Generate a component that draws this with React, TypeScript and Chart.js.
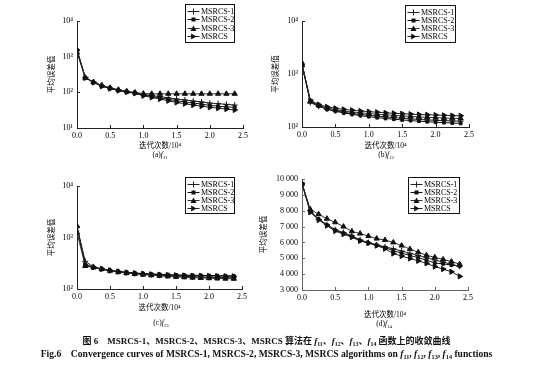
import React, { useEffect, useRef } from 'react';
import { Chart, registerables } from 'chart.js';

Chart.register(...registerables);

// ---------- data ----------
const xIter = [0, 0.125, 0.25, 0.375, 0.5, 0.625, 0.75, 0.875, 1.0, 1.125, 1.25, 1.375, 1.5, 1.625, 1.75, 1.875, 2.0, 2.125, 2.25, 2.375];
const xTicks = [0, 0.5, 1.0, 1.5, 2.0, 2.5];
const seriesNames = ['MSRCS-1', 'MSRCS-2', 'MSRCS-3', 'MSRCS'];

// (a) f11
const a1 = [1550, 262, 195, 155, 132, 117, 106, 98, 87, 81, 76, 70, 65, 61, 57, 54, 50, 48, 46, 44];
const a2 = [1550, 258, 190, 150, 128, 113, 103, 95, 84, 77, 70, 64, 58, 54, 50, 47, 43, 41, 39, 38];
const a3 = [1300, 255, 193, 156, 134, 118, 106, 98, 92, 91, 91, 91, 91, 91, 91, 91, 91, 91, 91, 91];
const a4 = [1500, 255, 188, 148, 127, 112, 102, 94, 80, 72, 65, 58, 52, 48, 44, 41, 38, 36, 34, 32];

// (b) f12
const b1 = [1550, 290, 245, 218, 203, 190, 180, 172, 166, 160, 155, 150, 146, 142, 139, 136, 134, 132, 130, 129];
const b2 = [1600, 310, 250, 215, 198, 184, 173, 164, 157, 150, 145, 140, 136, 132, 129, 126, 123, 121, 119, 117];
const b3 = [1450, 300, 255, 228, 212, 200, 192, 185, 180, 174, 170, 166, 162, 158, 155, 152, 150, 148, 146, 145];
const b4 = [1500, 320, 265, 240, 225, 215, 207, 200, 195, 190, 185, 181, 178, 175, 172, 170, 168, 166, 164, 163];

// (c) f13
const c1 = [1600, 345, 268, 245, 228, 217, 207, 200, 194, 189, 185, 181, 178, 175, 173, 171, 169, 167, 166, 165];
const c2 = [1650, 300, 265, 245, 230, 220, 212, 205, 200, 196, 193, 190, 188, 186, 185, 184, 183, 182, 181, 180];
const c3 = [1250, 280, 262, 243, 226, 214, 204, 196, 190, 185, 180, 176, 172, 169, 166, 164, 162, 160, 159, 158];
const c4 = [1600, 290, 264, 246, 229, 218, 209, 202, 197, 193, 190, 187, 185, 183, 181, 180, 179, 178, 177, 176];

// (d) f14
const d1 = [9750, 8000, 7450, 7130, 6800, 6620, 6420, 6160, 5990, 5850, 5720, 5600, 5460, 5320, 5180, 5030, 4890, 4760, 4620, 4490];
const d2 = [9720, 7950, 7480, 7100, 6770, 6580, 6380, 6120, 5970, 5820, 5680, 5480, 5320, 5180, 5040, 4880, 4700, 4650, 4570, 4500];
const d3 = [9700, 8080, 7780, 7500, 7270, 7000, 6700, 6560, 6400, 6240, 6150, 6000, 5800, 5580, 5380, 5190, 5060, 4930, 4790, 4630];
const d4 = [9700, 7900, 7420, 7060, 6720, 6520, 6330, 6100, 5960, 5800, 5600, 5300, 5140, 4990, 4840, 4680, 4480, 4320, 4150, 3860];

const logTicksA = [10, 100, 1000, 10000];
const logTicksBC = [100, 1000, 10000];
const linTicksD = [3000, 4000, 5000, 6000, 7000, 8000, 9000, 10000];

const yTitle = '平均误差值';
const xTitle = '迭代次数/10⁴';

// ---------- styling ----------
const FONT = "'Liberation Serif', 'Noto Sans CJK SC', serif";
const TITLE_SIZE = 7.5;
const HALF_LH = (TITLE_SIZE * 1.2) / 2;
const pointStyles = ['cross', 'rect', 'triangle', 'triangle'];
const pointRot = [0, 0, 0, 90];
const pointRad = [3, 2, 3, 3];
const lineColors = ['#222', '#111', '#333', '#222'];

const sup: Record<string, string> = { '0': '⁰', '1': '¹', '2': '²', '3': '³', '4': '⁴', '5': '⁵' };
const powLabel = (v: number) => '10' + String(Math.round(Math.log10(v))).split('').map((c) => sup[c]).join('');
const spaced = (v: number) => String(v).replace(/\B(?=(\d{3})+(?!\d))/g, ' ');

type Panel = {
  key: string;
  L: number; T: number; W: number; H: number;
  plotL: number; plotR: number; plotT: number; plotB: number;
  titleX: number; xTitleY: number;
  log: boolean; yMin: number; yMax: number; yTicks: number[];
  series: number[][];
  legend: { x: number; y: number; w: number; h: number };
  axisColor: string;
};

const panels: Panel[] = [
  { key: 'a', L: 40, T: 0, W: 226, H: 165, plotL: 77, plotR: 243, plotT: 21, plotB: 128, titleX: 52, xTitleY: 146,
    log: true, yMin: 10, yMax: 10000, yTicks: logTicksA, series: [a1, a2, a3, a4],
    legend: { x: 185, y: 4, w: 49, h: 38 }, axisColor: '#222' },
  { key: 'b', L: 266, T: 0, W: 267, H: 165, plotL: 302, plotR: 469, plotT: 21, plotB: 127, titleX: 276, xTitleY: 146,
    log: true, yMin: 100, yMax: 10000, yTicks: logTicksBC, series: [b1, b2, b3, b4],
    legend: { x: 405, y: 5, w: 50, h: 37 }, axisColor: '#222' },
  { key: 'c', L: 40, T: 165, W: 226, H: 170, plotL: 77, plotR: 242, plotT: 186, plotB: 289, titleX: 52, xTitleY: 308,
    log: true, yMin: 100, yMax: 10000, yTicks: logTicksBC, series: [c1, c2, c3, c4],
    legend: { x: 185, y: 177, w: 49, h: 36 }, axisColor: '#222' },
  { key: 'd', L: 255, T: 165, W: 278, H: 170, plotL: 302, plotR: 468, plotT: 179, plotB: 290, titleX: 264, xTitleY: 315,
    log: false, yMin: 3000, yMax: 10000, yTicks: linTicksD, series: [d1, d2, d3, d4],
    legend: { x: 408, y: 177, w: 51, h: 36 }, axisColor: '#666' },
];

function drawMarker(ctx: CanvasRenderingContext2D, i: number, x: number, y: number) {
  const r = pointRad[i];
  ctx.beginPath();
  if (i === 0) {
    ctx.moveTo(x - r, y); ctx.lineTo(x + r, y);
    ctx.moveTo(x, y - r); ctx.lineTo(x, y + r);
    ctx.stroke();
  } else if (i === 1) {
    ctx.fillRect(x - r, y - r, 2 * r, 2 * r);
  } else if (i === 2) {
    ctx.moveTo(x, y - r); ctx.lineTo(x + r, y + r * 0.8); ctx.lineTo(x - r, y + r * 0.8); ctx.closePath(); ctx.fill();
  } else {
    ctx.moveTo(x + r, y); ctx.lineTo(x - r * 0.8, y - r); ctx.lineTo(x - r * 0.8, y + r); ctx.closePath(); ctx.fill();
  }
}

const decorPlugin = {
  id: 'decor',
  afterDraw(chart: any, _args: any, opts: any) {
    const { ctx, chartArea, scales } = chart;
    const p: Panel = opts.panel;
    ctx.save();
    ctx.strokeStyle = p.axisColor;
    ctx.lineWidth = 1;
    // inward tick marks
    scales.x.ticks.forEach((t: any) => {
      const px = Math.round(scales.x.getPixelForValue(t.value)) + 0.5;
      ctx.beginPath(); ctx.moveTo(px, chartArea.bottom); ctx.lineTo(px, chartArea.bottom - 3); ctx.stroke();
    });
    scales.y.ticks.forEach((t: any) => {
      const py = Math.round(scales.y.getPixelForValue(t.value)) + 0.5;
      ctx.beginPath(); ctx.moveTo(chartArea.left, py); ctx.lineTo(chartArea.left + 3, py); ctx.stroke();
    });
    // legend
    const lx = p.legend.x - p.L + 0.5;
    const ly = p.legend.y - p.T + 0.5;
    ctx.fillStyle = '#fff';
    ctx.fillRect(lx, ly, p.legend.w, p.legend.h);
    ctx.strokeStyle = '#111';
    ctx.strokeRect(lx, ly, p.legend.w, p.legend.h);
    const rowH = (p.legend.h - 4) / 4;
    ctx.font = `8px ${FONT}`;
    ctx.textBaseline = 'middle';
    ctx.textAlign = 'left';
    seriesNames.forEach((name, i) => {
      const y = Math.round(ly + 2 + rowH * (i + 0.5)) + 0.5;
      ctx.strokeStyle = lineColors[i];
      ctx.fillStyle = '#111';
      ctx.beginPath(); ctx.moveTo(lx + 2, y); ctx.lineTo(lx + 14, y); ctx.stroke();
      drawMarker(ctx, i, lx + 8, y);
      ctx.fillStyle = '#000';
      ctx.fillText(name, lx + 15.5, y + 0.5);
    });
    ctx.restore();
  },
};

function ChartPanel({ p }: { p: Panel }) {
  const ref = useRef<HTMLCanvasElement | null>(null);
  useEffect(() => {
    if (!ref.current) return;
    const yAxisW = p.plotL - p.L;
    const xAxisH = p.xTitleY + HALF_LH - p.plotB;
    const padBottom = p.T + p.H - (p.xTitleY + HALF_LH);
    const chart = new Chart(ref.current, {
      type: 'line',
      data: {
        datasets: p.series.map((s, i) => ({
          label: seriesNames[i],
          data: xIter.map((x, j) => ({ x, y: s[j] })),
          borderColor: lineColors[i],
          borderWidth: 1,
          pointStyle: pointStyles[i] as any,
          rotation: pointRot[i],
          pointRadius: pointRad[i],
          pointBorderWidth: 1,
          pointBorderColor: '#111',
          pointBackgroundColor: '#111',
          tension: 0,
          fill: false,
        })),
      },
      options: {
        animation: false,
        responsive: false,
        devicePixelRatio: 1,
        layout: { padding: { left: 0, right: p.W - (p.plotR - p.L), top: p.plotT - p.T, bottom: padBottom } },
        plugins: {
          legend: { display: false },
          tooltip: { enabled: false },
          decor: { panel: p },
        } as any,
        scales: {
          x: {
            type: 'linear',
            min: 0,
            max: 2.5,
            grid: { display: false, drawTicks: false, tickLength: 0 },
            border: { display: true, color: p.axisColor, width: 1 },
            ticks: {
              padding: 3,
              color: '#000',
              font: { family: FONT, size: 8 },
              autoSkip: false,
              maxRotation: 0,
              callback: (v: any) => Number(v).toFixed(1),
            },
            afterBuildTicks: (s: any) => { s.ticks = xTicks.map((v) => ({ value: v })); },
            afterFit: (s: any) => { s.height = xAxisH; },
            title: { display: true, text: xTitle, color: '#000', font: { family: FONT, size: TITLE_SIZE }, padding: { top: 0, bottom: 0 } },
          },
          y: {
            type: p.log ? 'logarithmic' : 'linear',
            min: p.yMin,
            max: p.yMax,
            grid: { display: false, drawTicks: false, tickLength: 0 },
            border: { display: true, color: p.axisColor, width: 1 },
            ticks: {
              padding: 4,
              color: '#000',
              font: { family: FONT, size: 8 },
              autoSkip: false,
              callback: (v: any) => (p.log ? powLabel(Number(v)) : spaced(Number(v))),
            },
            afterBuildTicks: (s: any) => { s.ticks = p.yTicks.map((v) => ({ value: v })); },
            afterFit: (s: any) => { s.width = yAxisW; },
            title: { display: true, text: yTitle, color: '#000', font: { family: FONT, size: TITLE_SIZE }, padding: { top: p.titleX - p.L - HALF_LH, bottom: 0 } },
          },
        } as any,
      },
      plugins: [decorPlugin as any],
    });
    return () => chart.destroy();
  }, [p]);
  return (
    <canvas
      ref={ref}
      width={p.W}
      height={p.H}
      style={{ position: 'absolute', left: p.L, top: p.T, width: p.W, height: p.H }}
    />
  );
}

const subcaps = [
  { letter: 'a', sub: '11', x: 160, y: 156 },
  { letter: 'b', sub: '12', x: 386, y: 156 },
  { letter: 'c', sub: '13', x: 161, y: 324 },
  { letter: 'd', sub: '14', x: 384, y: 325 },
];

const F = (n: string) => (
  <span><i>f</i><sub style={{ fontSize: '0.65em', verticalAlign: '-0.25em' }}>{n}</sub></span>
);

export default function App() {
  return (
    <div style={{ position: 'absolute', left: 0, top: 0, width: 533, height: 365, background: '#fff', overflow: 'hidden', fontFamily: FONT }}>
      {panels.map((p) => <ChartPanel key={p.key} p={p} />)}
      {subcaps.map((s) => (
        <div key={s.letter} style={{ position: 'absolute', left: s.x, top: s.y, transform: 'translate(-50%, -50%)', fontSize: 7.5, lineHeight: '9px', whiteSpace: 'nowrap', color: '#000' }}>
          ({s.letter}){F(s.sub)}
        </div>
      ))}
      <div style={{ position: 'absolute', left: 0, width: 533, top: 343, transform: 'translateY(-50%)', textAlign: 'center', fontSize: 9, fontWeight: 'bold', lineHeight: '11px', whiteSpace: 'nowrap', color: '#111' }}>
        图 6&nbsp;&nbsp;&nbsp;&nbsp;MSRCS-1、MSRCS-2、MSRCS-3、MSRCS 算法在 {F('11')}、{F('12')}、{F('13')}、{F('14')} 函数上的收敛曲线
      </div>
      <div style={{ position: 'absolute', left: 0, width: 533, top: 354.5, transform: 'translateY(-50%)', textAlign: 'center', fontSize: 9.6, fontWeight: 'bold', lineHeight: '11px', whiteSpace: 'nowrap', color: '#111' }}>
        Fig.6&nbsp;&nbsp;&nbsp;&nbsp;Convergence curves of MSRCS-1, MSRCS-2, MSRCS-3, MSRCS algorithms on {F('11')}, {F('12')}, {F('13')}, {F('14')} functions
      </div>
    </div>
  );
}
